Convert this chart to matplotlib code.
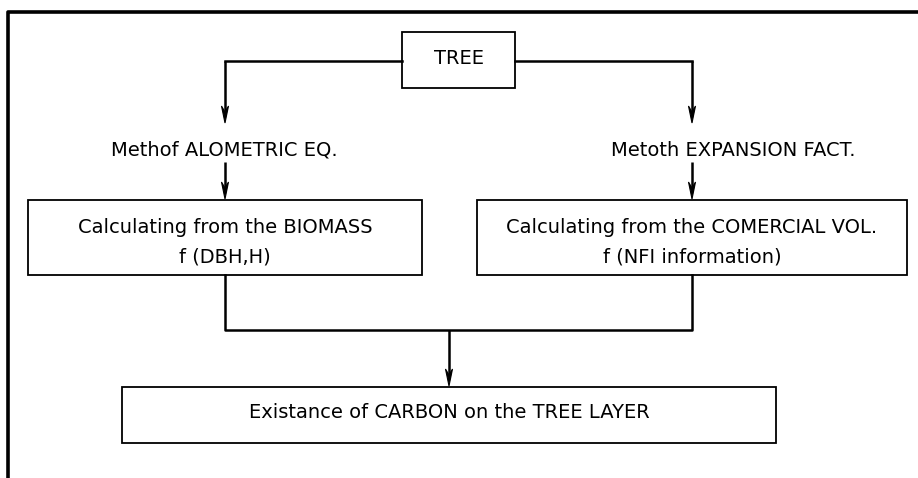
import matplotlib
matplotlib.use("Agg")
import matplotlib.pyplot as plt
from matplotlib.patches import Rectangle, Polygon

# flowchart content
box_labels = [
    "TREE",
    "Calculating from the BIOMASS\nf (DBH,H)",
    "Calculating from the COMERCIAL VOL.\nf (NFI information)",
    "Existance of CARBON on the TREE LAYER",
]
method_labels = ["Methof ALOMETRIC EQ.", "Metoth EXPANSION FACT."]

# box geometry in pixels: x0, y0, x1, y1 (y downwards)
box_xy = [(402, 32, 515, 88), (28, 200, 422, 275), (477, 200, 907, 275), (122, 387, 776, 443)]
method_xy = [(224, 150), (733, 150)]
branch_x = [225, 692]
W, H = 918, 478
FONT = 14

fig = plt.figure(figsize=(W / 100, H / 100), dpi=100)
ax = fig.add_axes([0, 0, 1, 1])
ax.set_xlim(0, W)
ax.set_ylim(H, 0)
ax.axis("off")

# outer frame: top and left edges only
ax.plot([8, 8, W], [H, 12, 12], color="black", lw=2.6, solid_capstyle="butt")


def arrow(x, y0, y1):
    # shaft plus a narrow notched head, tip exactly at y1
    ax.plot([x, x], [y0, y1 - 8], color="black", lw=1.8, solid_capstyle="butt")
    ax.add_patch(Polygon([(x - 3.5, y1 - 17), (x, y1), (x + 3.5, y1 - 17), (x, y1 - 11)],
                         closed=True, fc="black", ec="black", lw=0.8))


for (x0, y0, x1, y1), lab in zip(box_xy, box_labels):
    ax.add_patch(Rectangle((x0, y0), x1 - x0, y1 - y0, fill=False, ec="black", lw=1.3))
    lines = lab.split("\n")
    cx = (x0 + x1) / 2
    if len(lines) == 1:
        ax.text(cx, (y0 + y1) / 2 - 2, lab, ha="center", va="center", fontsize=FONT)
    else:
        ax.text(cx, y0 + 27, lines[0], ha="center", va="center", fontsize=FONT)
        ax.text(cx, y0 + 57, lines[1], ha="center", va="center", fontsize=FONT)

# TREE -> two methods
tx0, ty0, tx1, ty1 = box_xy[0]
ty = 61
ax.plot([tx0, branch_x[0]], [ty, ty], color="black", lw=1.8)
ax.plot([tx1, branch_x[1]], [ty, ty], color="black", lw=1.8)
for bx in branch_x:
    arrow(bx, ty, 123)

for (mx, my), lab, bx in zip(method_xy, method_labels, branch_x):
    ax.text(mx, my, lab, ha="center", va="center", fontsize=FONT)
    arrow(bx, 162, 199)

# two boxes -> merge -> carbon box
ybot = box_xy[1][3]
mid_x = 449
ax.plot([branch_x[0], branch_x[0], branch_x[1], branch_x[1]],
        [ybot, 330, 330, ybot], color="black", lw=1.8)
arrow(mid_x, 330, 386)

fig.savefig("out.png", dpi=100, facecolor="white")
